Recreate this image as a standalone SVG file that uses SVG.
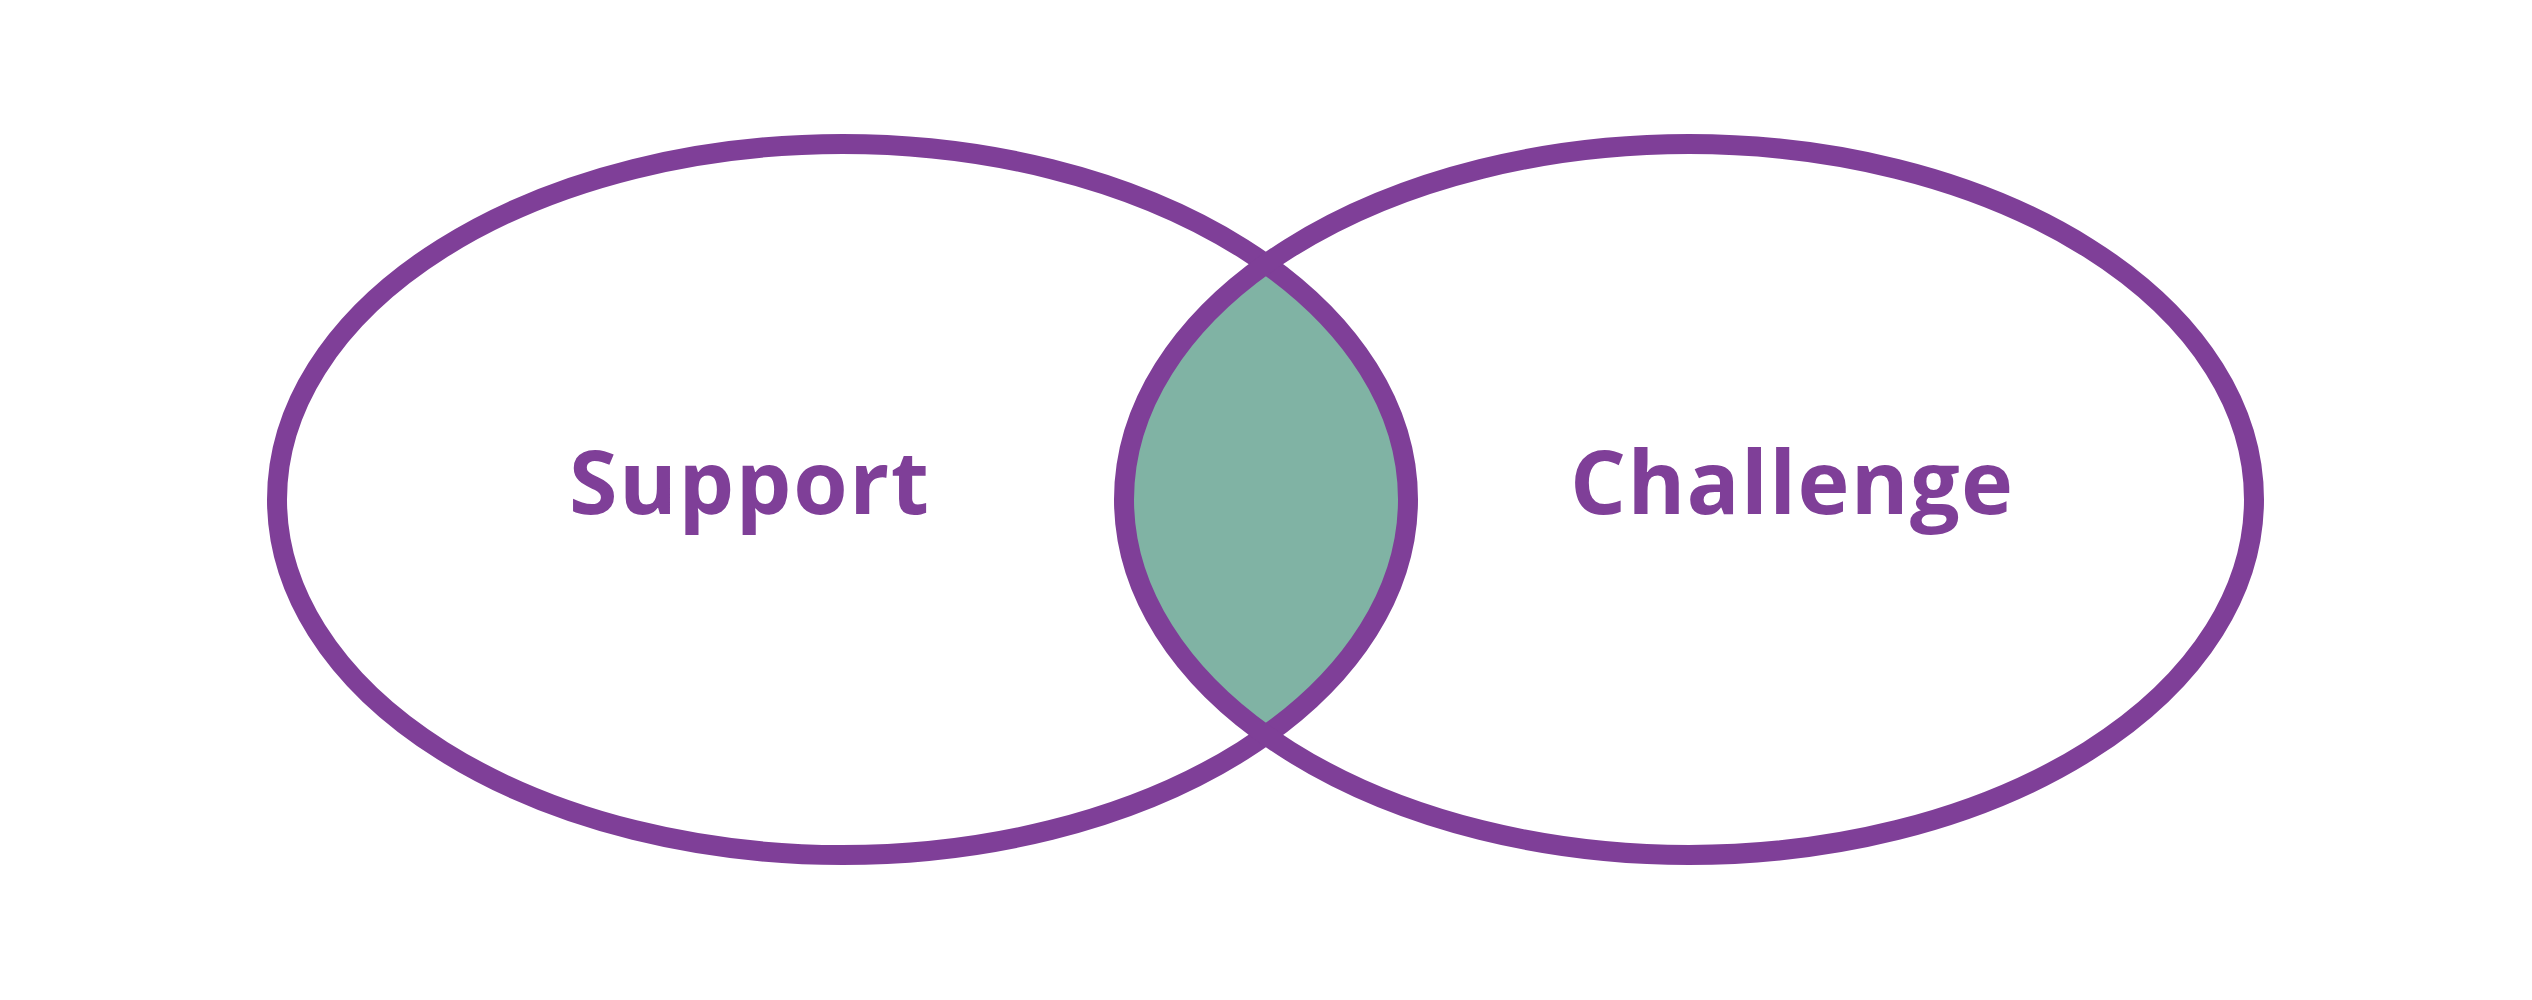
<svg xmlns="http://www.w3.org/2000/svg" width="2532" height="1000" viewBox="0 0 2532 1000">
  <style>
    .ring { fill: none; stroke: #7f3f98; stroke-width: 20; }
    .lens { fill: #80b3a4; }
    .label { font-family: "Open Sans", "Liberation Sans", sans-serif; font-weight: 700; font-size: 88px; fill: #7f3f98; text-anchor: middle; }
  </style>
  <defs>
    <clipPath id="clipRight">
      <ellipse cx="1689" cy="499.5" rx="565" ry="355.5"/>
    </clipPath>
  </defs>
  <rect width="2532" height="1000" fill="#ffffff"/>
  <g id="overlap">
    <ellipse class="lens" cx="842.5" cy="499.5" rx="565.5" ry="355.5" clip-path="url(#clipRight)"/>
  </g>
  <g id="support">
    <ellipse class="ring" cx="842.5" cy="499.5" rx="565.5" ry="355.5"/>
    <text class="label" x="749" y="514" textLength="360" lengthAdjust="spacing">Support</text>
  </g>
  <g id="challenge">
    <ellipse class="ring" cx="1689" cy="499.5" rx="565" ry="355.5"/>
    <text class="label" x="1791.5" y="514" textLength="443" lengthAdjust="spacing">Challenge</text>
  </g>
  <g id="connectors"/>
</svg>
